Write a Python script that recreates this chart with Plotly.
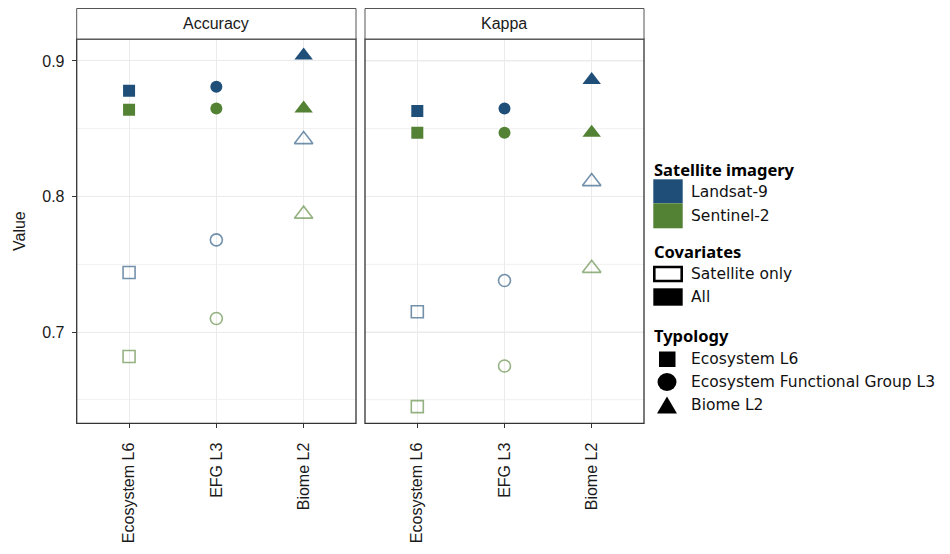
import plotly.graph_objects as go

W, H = 950, 554

categories = ["Ecosystem L6", "EFG L3", "Biome L2"]
symbols = ["square", "circle", "triangle-up"]

# Values
acc_landsat_all = [0.878, 0.881, 0.904]
acc_sentinel_all = [0.864, 0.865, 0.865]
acc_landsat_sat = [0.744, 0.768, 0.842]
acc_sentinel_sat = [0.682, 0.710, 0.787]

kap_landsat_all = [0.863, 0.865, 0.886]
kap_sentinel_all = [0.847, 0.847, 0.847]
kap_landsat_sat = [0.715, 0.738, 0.811]
kap_sentinel_sat = [0.645, 0.675, 0.747]

panels = ["Accuracy", "Kappa"]
y_ticks = [0.7, 0.8, 0.9]
y_minor = [0.65, 0.75, 0.85]

BLUE = "#1F4E79"
GREEN = "#548235"
BLUE_L = "rgba(31,78,121,0.62)"
GREEN_L = "rgba(84,130,53,0.62)"

legend_sat = ["Landsat-9", "Sentinel-2"]
legend_cov = ["Satellite only", "All"]
legend_typ = ["Ecosystem L6", "Ecosystem Functional Group L3", "Biome L2"]


def px(x):
    return x / W


def py(y):
    return 1 - y / H


fig = go.Figure()

series = [
    (acc_landsat_sat, kap_landsat_sat, BLUE_L, True),
    (acc_sentinel_sat, kap_sentinel_sat, GREEN_L, True),
    (acc_landsat_all, kap_landsat_all, BLUE, False),
    (acc_sentinel_all, kap_sentinel_all, GREEN, False),
]

for acc, kap, col, is_open in series:
    for i, vals in enumerate([acc, kap]):
        xa = "x" if i == 0 else "x2"
        for j, cat in enumerate(categories):
            sym = symbols[j]
            size = 16 if sym == "triangle-up" else 12
            if is_open:
                marker = dict(symbol=sym + "-open", size=size, color=col,
                              line=dict(width=1.6, color=col))
            else:
                marker = dict(symbol=sym, size=size, color=col, line=dict(width=0))
            fig.add_trace(go.Scatter(x=[cat], y=[vals[j]], xaxis=xa, yaxis="y",
                                     mode="markers", marker=marker,
                                     showlegend=False, hoverinfo="skip"))

FONT = "Liberation Sans"
y_dom = [py(423.3), py(39)]
yr = [0.6327, 0.9162]
axis_common = dict(
    type="category", categoryorder="array", categoryarray=categories,
    range=[-0.6, 2.6], showgrid=True, gridcolor="#ebebeb", gridwidth=1,
    showline=False, zeroline=False, ticks="outside", ticklen=4, tickcolor="#333",
    tickangle=-90, tickfont=dict(family=FONT, size=16, color="#1a1a1a"),
    ticklabelstandoff=8, anchor="y",
)
fig.update_layout(
    width=W, height=H, margin=dict(l=0, r=0, t=0, b=0),
    plot_bgcolor="white", paper_bgcolor="white", showlegend=False,
    xaxis=dict(domain=[px(76.7), px(356)], **axis_common),
    xaxis2=dict(domain=[px(365), px(644)], **axis_common),
    yaxis=dict(domain=y_dom, range=yr, tickvals=y_ticks, ticktext=["0.7", "0.8", "0.9"],
               showgrid=True, gridcolor="#ebebeb", gridwidth=1.2,
               minor=dict(tickvals=y_minor, showgrid=True, gridcolor="#f2f2f2",
                          gridwidth=0.8, ticks=""),
               zeroline=False, showline=False, ticks="outside", ticklen=4,
               tickcolor="#333", anchor="x",
               tickfont=dict(family=FONT, size=16, color="#1a1a1a"),
               ticklabelstandoff=4),
)

shapes = []
for v in y_ticks:
    shapes.append(dict(type="line", xref="x2 domain", yref="y", x0=0, x1=1, y0=v, y1=v,
                       line=dict(color="#ebebeb", width=1.2), layer="below"))
for v in y_minor:
    shapes.append(dict(type="line", xref="x2 domain", yref="y", x0=0, x1=1, y0=v, y1=v,
                       line=dict(color="#f2f2f2", width=0.8), layer="below"))

for (x0, x1), label in zip([(76.7, 356), (365, 644)], panels):
    shapes.append(dict(type="rect", xref="paper", yref="paper", x0=px(x0), x1=px(x1),
                       y0=py(423.3), y1=py(39), line=dict(color="#333", width=1.3),
                       fillcolor="rgba(0,0,0,0)"))
    shapes.append(dict(type="rect", xref="paper", yref="paper", x0=px(x0), x1=px(x1),
                       y0=py(39), y1=py(8.5), line=dict(color="#555", width=1),
                       fillcolor="white"))
    fig.add_annotation(x=px((x0 + x1) / 2), y=py(24), xref="paper", yref="paper",
                       text=label, showarrow=False, xanchor="center", yanchor="middle",
                       font=dict(family=FONT, size=16, color="#1a1a1a"))

fig.add_annotation(x=px(20), y=py(231), xref="paper", yref="paper", text="Value",
                   textangle=-90, showarrow=False, xanchor="center", yanchor="middle",
                   font=dict(family=FONT, size=16, color="#1a1a1a"))

# ---- custom legend ----
TF = "Noto Sans"
LF = "DejaVu Sans"
lx_box0, lx_box1 = 653.3, 682.7
lx_text = 689.3


def title(text, y):
    fig.add_annotation(x=px(652), y=py(y), xref="paper", yref="paper", text="<b>%s</b>" % text,
                       showarrow=False, xanchor="left", yanchor="middle",
                       font=dict(family=TF, size=16.5, color="black"))


def label(text, y):
    fig.add_annotation(x=px(lx_text), y=py(y), xref="paper", yref="paper", text=text,
                       showarrow=False, xanchor="left", yanchor="middle",
                       font=dict(family=LF, size=15.5, color="#111"))


title("Satellite imagery", 170)
shapes.append(dict(type="rect", xref="paper", yref="paper", x0=px(lx_box0), x1=px(lx_box1),
                   y0=py(203.3), y1=py(179.3), fillcolor=BLUE, line=dict(width=0)))
shapes.append(dict(type="rect", xref="paper", yref="paper", x0=px(lx_box0), x1=px(lx_box1),
                   y0=py(228.3), y1=py(203.3), fillcolor=GREEN, line=dict(width=0)))
label(legend_sat[0], 192)
label(legend_sat[1], 216)

title("Covariates", 251)
shapes.append(dict(type="rect", xref="paper", yref="paper", x0=px(lx_box0 + 1), x1=px(lx_box1 - 1),
                   y0=py(281), y1=py(267), fillcolor="white", line=dict(width=2.6, color="black")))
shapes.append(dict(type="rect", xref="paper", yref="paper", x0=px(lx_box0), x1=px(lx_box1),
                   y0=py(305.7), y1=py(288.3), fillcolor="black", line=dict(width=0)))
label(legend_cov[0], 274)
label(legend_cov[1], 297)

title("Typology", 335)
shapes.append(dict(type="rect", xref="paper", yref="paper", x0=px(659), x1=px(675.5),
                   y0=py(367), y1=py(351.5), fillcolor="black", line=dict(width=0)))
shapes.append(dict(type="circle", xref="paper", yref="paper", x0=px(657.5), x1=px(676.5),
                   y0=py(391), y1=py(373), fillcolor="black", line=dict(width=0)))
tri = "M %f,%f L %f,%f L %f,%f Z" % (px(657), py(413.5), px(677), py(413.5), px(667), py(396.5))
shapes.append(dict(type="path", xref="paper", yref="paper", path=tri, fillcolor="black",
                   line=dict(width=0)))
label(legend_typ[0], 359)
label(legend_typ[1], 382)
label(legend_typ[2], 405)

fig.update_layout(shapes=shapes)
fig.write_html("out.html", config={"displayModeBar": False},
               post_script="document.body.style.margin='0';document.body.style.overflow='hidden';")
